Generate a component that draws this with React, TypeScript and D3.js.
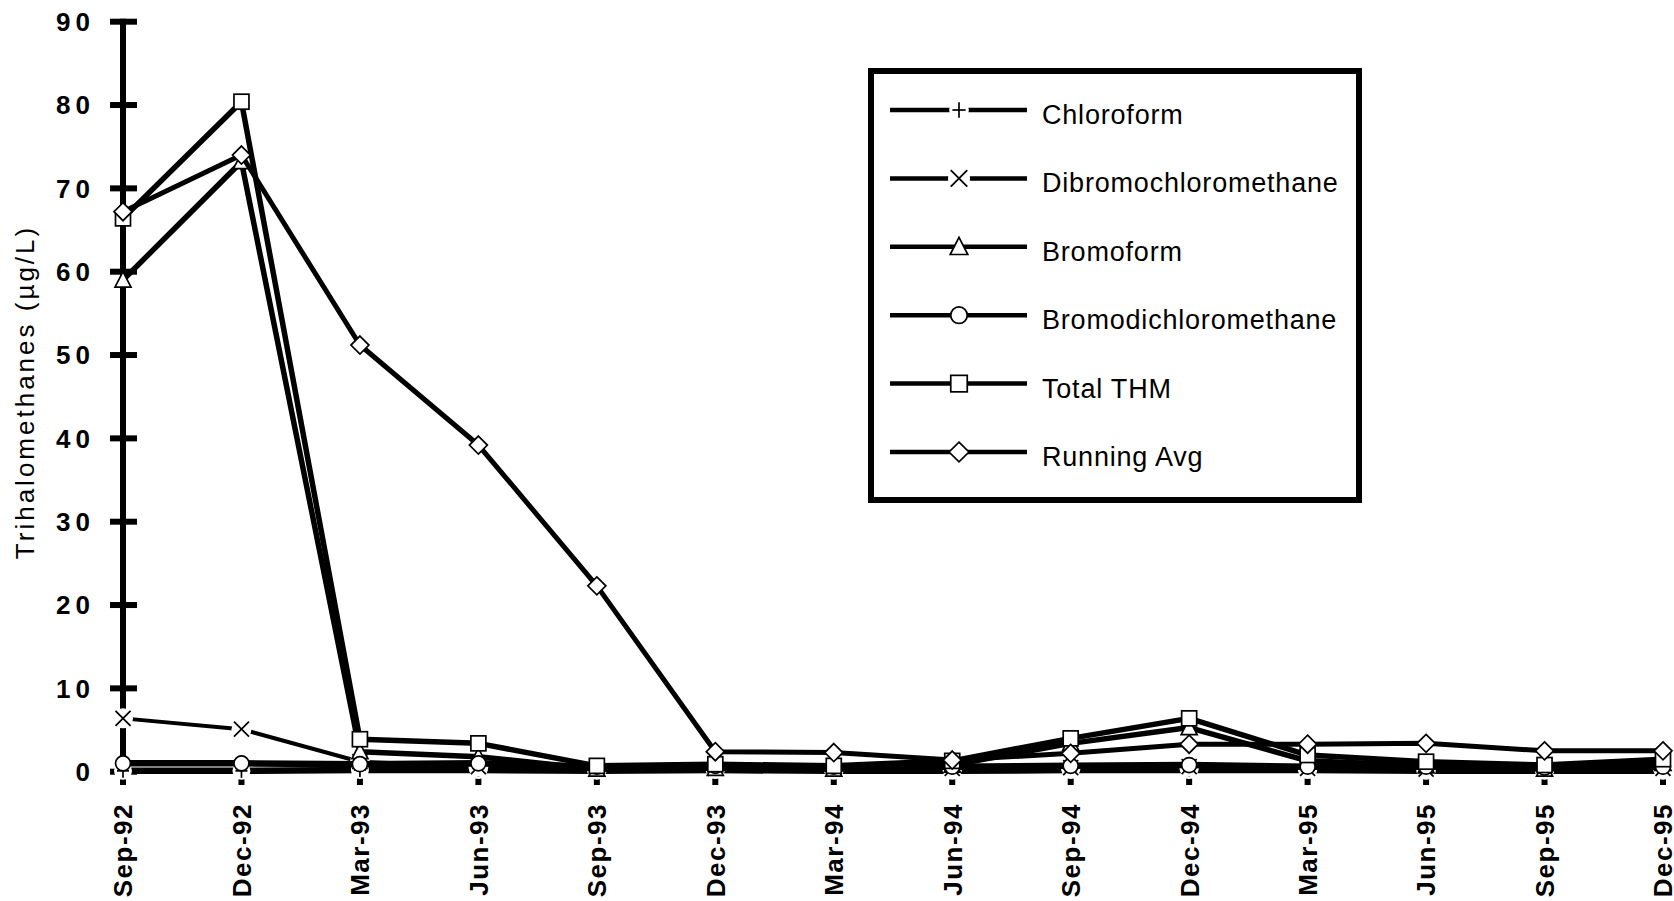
import React from "react";
import * as d3 from "d3";

const categories = ["Sep-92","Dec-92","Mar-93","Jun-93","Sep-93","Dec-93","Mar-94","Jun-94","Sep-94","Dec-94","Mar-95","Jun-95","Sep-95","Dec-95"];
const chloroform = [0.1,0.1,0.2,0.2,0.1,0.2,0.1,0.1,0.2,0.2,0.2,0.1,0.1,0.1];
const dibromochloromethane = [6.4,5.1,1.2,0.6,0.3,0.4,0.3,0.4,0.5,0.6,0.4,0.3,0.3,0.4];
const bromoform = [59.0,73.2,2.4,1.8,0.3,0.4,0.3,0.8,3.4,5.3,1.3,0.7,0.3,1.0];
const bromodichloromethane = [1.0,1.0,0.9,1.0,0.6,0.7,0.6,0.6,0.7,0.8,0.6,0.6,0.5,0.6];
const totalTHM = [66.4,80.4,3.9,3.4,0.7,0.9,0.7,1.3,4.0,6.4,2.0,1.2,0.8,1.5];
const runningAvg = [67.2,74.0,51.2,39.2,22.3,2.4,2.3,1.4,2.2,3.3,3.3,3.4,2.5,2.5];
const yTicks = [0,10,20,30,40,50,60,70,80,90];

const seriesNames = ["Chloroform","Dibromochloromethane","Bromoform","Bromodichloromethane","Total THM","Running Avg"];
const seriesValues = [chloroform, dibromochloromethane, bromoform, bromodichloromethane, totalTHM, runningAvg];
const seriesMarkers = ["plus","x","triangle","circle","square","diamond"];
const seriesWidths = [6.5, 4, 5.5, 6.5, 5.5, 5];

const FONT = "'Liberation Sans', Arial, Helvetica, sans-serif";

function Marker({ type, x, y, s = 1 }: { type: string; x: number; y: number; s?: number }) {
  const sw = 1.7;
  if (type === "plus") {
    return (
      <g>
        <circle cx={x} cy={y} r={9 * s} fill="#fff" />
        <line x1={x - 6 * s} x2={x + 6 * s} y1={y} y2={y} stroke="#000" strokeWidth={sw} />
        <line x1={x} x2={x} y1={y - 7 * s} y2={y + 7 * s} stroke="#000" strokeWidth={sw} />
      </g>
    );
  }
  if (type === "x") {
    return (
      <g>
        <circle cx={x} cy={y} r={10 * s} fill="#fff" />
        <line x1={x - 7.5 * s} x2={x + 7.5 * s} y1={y - 7.5 * s} y2={y + 7.5 * s} stroke="#000" strokeWidth={sw} />
        <line x1={x - 7.5 * s} x2={x + 7.5 * s} y1={y + 7.5 * s} y2={y - 7.5 * s} stroke="#000" strokeWidth={sw} />
      </g>
    );
  }
  if (type === "triangle") {
    return <path d={`M${x},${y - 8.5 * s}L${x + 8 * s},${y + 7 * s}L${x - 8 * s},${y + 7 * s}Z`} fill="#fff" stroke="#000" strokeWidth={sw} />;
  }
  if (type === "circle") {
    return <circle cx={x} cy={y} r={7.5 * s} fill="#fff" stroke="#000" strokeWidth={sw} />;
  }
  if (type === "square") {
    return <rect x={x - 7.5 * s} y={y - 7.5 * s} width={15 * s} height={15 * s} fill="#fff" stroke="#000" strokeWidth={sw} />;
  }
  return <path d={`M${x},${y - 9 * s}L${x + 9 * s},${y}L${x},${y + 9 * s}L${x - 9 * s},${y}Z`} fill="#fff" stroke="#000" strokeWidth={sw} />;
}

export default function App() {
  const x = d3.scalePoint<string>().domain(categories).range([123, 1663]);
  const y = d3.scaleLinear().domain([0, 90]).range([771.7, 21.7]);
  const line = d3
    .line<number>()
    .x((_, i) => x(categories[i]) as number)
    .y((d) => y(d));

  const legendX1 = 890;
  const legendX2 = 1027;
  const legendMx = 959;
  const legendRows = seriesNames.map((_, i) => 110 + i * 68.4);

  return (
    <svg
      width={1674}
      height={901}
      style={{ position: "absolute", left: 0, top: 0, display: "block", background: "#fff" }}
      fontFamily={FONT}
    >
      <rect x={0} y={0} width={1674} height={901} fill="#fff" />

      {/* Y axis */}
      <line x1={x(categories[0])} x2={x(categories[0])} y1={y(90) - 3} y2={785} stroke="#000" strokeWidth={6} />
      {yTicks.map((t) => (
        <g key={t}>
          <line x1={110} x2={137} y1={y(t)} y2={y(t)} stroke="#000" strokeWidth={6} />
          <text
            x={95}
            y={y(t)}
            dy="0.36em"
            textAnchor="end"
            fontSize={26}
            fontWeight="bold"
            letterSpacing={5}
            fill="#000"
          >
            {String(t)}
          </text>
        </g>
      ))}
      <text
        transform={`translate(34, ${392}) rotate(-90)`}
        textAnchor="middle"
        fontSize={26}
        letterSpacing={3}
        fill="#000"
      >
        Trihalomethanes  (µg/L)
      </text>

      {/* X ticks and labels */}
      {categories.map((c) => (
        <g key={c}>
          <line x1={x(c)} x2={x(c)} y1={775} y2={785} stroke="#000" strokeWidth={6} />
          <text
            transform={`translate(${x(c)}, 803) rotate(-90)`}
            dy="0.36em"
            textAnchor="end"
            fontSize={26}
            fontWeight="bold"
            letterSpacing={1.5}
            fill="#000"
          >
            {c}
          </text>
        </g>
      ))}

      {/* Series */}
      {seriesValues.map((vals, si) => (
        <g key={seriesNames[si]}>
          <path
            d={line(vals) || ""}
            fill="none"
            stroke="#000"
            strokeWidth={seriesWidths[si]}
            strokeLinejoin="round"
            strokeLinecap="round"
          />
          {vals.map((v, i) => (
            <Marker key={i} type={seriesMarkers[si]} x={x(categories[i]) as number} y={y(v)} />
          ))}
        </g>
      ))}

      {/* Legend */}
      <rect x={871} y={71} width={488} height={429} fill="#fff" stroke="#000" strokeWidth={6} />
      {seriesNames.map((name, i) => (
        <g key={name}>
          <line x1={legendX1} x2={legendX2} y1={legendRows[i]} y2={legendRows[i]} stroke="#000" strokeWidth={4.5} />
          <Marker type={seriesMarkers[i]} x={legendMx} y={legendRows[i]} s={1.1} />
          <text x={1042} y={legendRows[i] + 14} fontSize={27} letterSpacing={0.8} fill="#000">
            {name}
          </text>
        </g>
      ))}
    </svg>
  );
}
